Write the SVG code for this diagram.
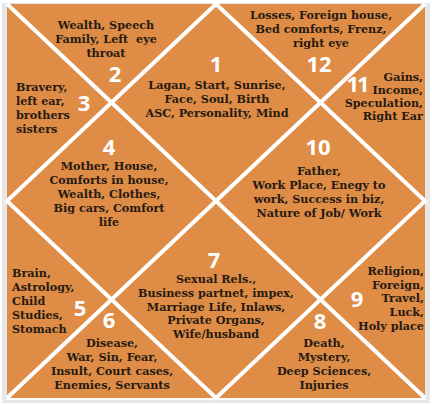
<svg xmlns="http://www.w3.org/2000/svg" width="432" height="405" viewBox="0 0 432 405">
<style>
.t{font-family:"DejaVu Serif","Liberation Serif",serif;font-weight:bold;font-size:11.2px;fill:#261a12}
.m{text-anchor:middle}
.e{text-anchor:end}
.n{font-family:"Open Sans","DejaVu Sans",sans-serif;font-weight:700;font-size:22px;fill:#ffffff;text-anchor:middle}
.ln{stroke:#ffffff;stroke-width:4;fill:none}
</style>
<rect x="2" y="3" width="428" height="400" fill="#e6e6e6"/>
<rect x="7" y="4" width="418" height="394" fill="#de8c46"/>
<g id="lines">
<line class="ln" x1="7" y1="4" x2="425" y2="398"/>
<line class="ln" x1="425" y1="4" x2="7" y2="398"/>
<polygon class="ln" points="216,4 425,201 216,398 7,201"/>
<line x1="7" y1="399" x2="425" y2="399" stroke="#ffffff" stroke-width="2"/>
</g>
<g id="house1">
<text class="n" x="216" y="72">1</text>
<text class="t m" x="217" y="89">Lagan, Start, Sunrise,</text>
<text class="t m" x="217" y="103">Face, Soul, Birth</text>
<text class="t m" x="217" y="117">ASC, Personality, Mind</text>
</g>
<g id="house2">
<text class="n" x="115" y="82">2</text>
<text class="t m" x="106" y="29">Wealth, Speech</text>
<text class="t m" x="106" y="43" xml:space="preserve">Family, Left  eye</text>
<text class="t m" x="106" y="57">throat</text>
</g>
<g id="house3">
<text class="n" x="84" y="111">3</text>
<text class="t" x="16" y="91">Bravery,</text>
<text class="t" x="16" y="105">left ear,</text>
<text class="t" x="16" y="119">brothers</text>
<text class="t" x="16" y="133">sisters</text>
</g>
<g id="house4">
<text class="n" x="109" y="155">4</text>
<text class="t m" x="109" y="170">Mother, House,</text>
<text class="t m" x="109" y="184">Comforts in house,</text>
<text class="t m" x="109" y="198">Wealth, Clothes,</text>
<text class="t m" x="109" y="212">Big cars, Comfort</text>
<text class="t m" x="109" y="226">life</text>
</g>
<g id="house5">
<text class="n" x="80" y="316">5</text>
<text class="t" x="12" y="277">Brain,</text>
<text class="t" x="12" y="291">Astrology,</text>
<text class="t" x="12" y="305">Child</text>
<text class="t" x="12" y="319">Studies,</text>
<text class="t" x="12" y="333">Stomach</text>
</g>
<g id="house6">
<text class="n" x="109" y="328">6</text>
<text class="t m" x="112" y="347">Disease,</text>
<text class="t m" x="112" y="361">War, Sin, Fear,</text>
<text class="t m" x="112" y="375">Insult, Court cases,</text>
<text class="t m" x="112" y="389">Enemies, Servants</text>
</g>
<g id="house7">
<text class="n" x="214" y="268">7</text>
<text class="t m" x="216" y="283">Sexual Rels.,</text>
<text class="t m" x="216" y="297">Business partnet, impex,</text>
<text class="t m" x="216" y="311">Marriage Life, Inlaws,</text>
<text class="t m" x="216" y="324">Private Organs,</text>
<text class="t m" x="216" y="338">Wife/husband</text>
</g>
<g id="house8">
<text class="n" x="320" y="329">8</text>
<text class="t m" x="324" y="347">Death,</text>
<text class="t m" x="324" y="361">Mystery,</text>
<text class="t m" x="324" y="375">Deep Sciences,</text>
<text class="t m" x="324" y="389">Injuries</text>
</g>
<g id="house9">
<text class="n" x="357" y="307">9</text>
<text class="t e" x="424" y="275">Religion,</text>
<text class="t e" x="424" y="289">Foreign,</text>
<text class="t e" x="424" y="302">Travel,</text>
<text class="t e" x="424" y="316">Luck,</text>
<text class="t e" x="424" y="330">Holy place</text>
</g>
<g id="house10">
<text class="n" x="318" y="155">10</text>
<text class="t m" x="319" y="175">Father,</text>
<text class="t m" x="319" y="189">Work Place, Enegy to</text>
<text class="t m" x="319" y="203">work, Success in biz,</text>
<text class="t m" x="319" y="217">Nature of Job/ Work</text>
</g>
<g id="house11">
<text class="n" x="357" y="92" letter-spacing="-2">11</text>
<text class="t e" x="423" y="81">Gains,</text>
<text class="t e" x="423" y="94">Income,</text>
<text class="t e" x="423" y="107">Speculation,</text>
<text class="t e" x="423" y="120">Right Ear</text>
</g>
<g id="house12">
<text class="n" x="319" y="72">12</text>
<text class="t m" x="321" y="19">Losses, Foreign house,</text>
<text class="t m" x="321" y="33">Bed comforts, Frenz,</text>
<text class="t m" x="321" y="47">right eye</text>
</g>
</svg>
